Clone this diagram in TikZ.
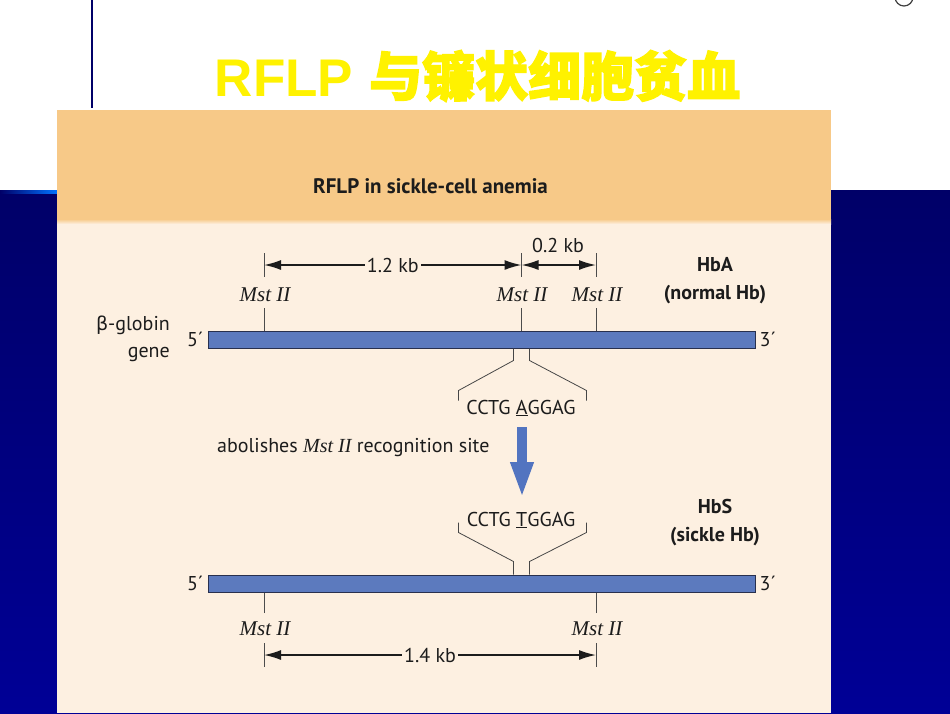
\documentclass[tikz,border=0pt]{standalone}
\usepackage{fontspec}
\setsansfont{PT Sans}
\newfontfamily\titlefont{Liberation Sans}
\newfontfamily\cjkfont[FakeBold=2.5]{Noto Sans CJK SC}
\newfontfamily\grkfont{DejaVu Sans}
\newfontfamily\sitefont{Liberation Serif}
\usepackage{xcolor}
\usetikzlibrary{positioning,arrows.meta}
\definecolor{slideblue}{RGB}{0,0,104}
\definecolor{slideblueb}{RGB}{0,0,150}
\definecolor{bandorange}{RGB}{247,201,136}
\definecolor{panelcream}{RGB}{253,240,225}
\definecolor{genefill}{RGB}{92,122,190}
\definecolor{geneedge}{RGB}{40,48,78}
\definecolor{arrowblue}{RGB}{82,116,192}
\definecolor{textdark}{RGB}{28,28,28}

\begin{document}
\begin{tikzpicture}[x=1pt, y=-1pt,
  genebar/.style={draw=geneedge, line width=1pt, fill=genefill, minimum width=547pt, minimum height=17pt, inner sep=0pt},
  lbl/.style={font=\sffamily\fontsize{20}{24}\selectfont, text=textdark, inner sep=1pt},
  site/.style={font=\sitefont\itshape\fontsize{21}{24}\selectfont, text=textdark, inner sep=1pt},
  hb/.style={font=\sffamily\bfseries\fontsize{20}{28}\selectfont, text=textdark, align=center},
  kb/.style={lbl, fill=panelcream, inner sep=2pt},
  tick/.style={draw=gray!60!black, line width=0.7pt},
  brace/.style={draw=gray!55!black, line width=0.8pt},
  dim/.style={{Latex[length=17pt,width=10pt]}-{Latex[length=17pt,width=10pt]}, line width=1.6pt, textdark},
  bigarrow/.style={-{Triangle[length=36pt,width=21pt]}, line width=10pt, arrowblue}
]
\useasboundingbox (0,0) rectangle (950,713);
\fill[white] (0,0) rectangle (950,713);
\shade[top color=slideblue, bottom color=slideblueb] (0,190) rectangle (950,713);
\shade[left color=slideblue, right color=blue!55!cyan] (0,190) rectangle (57,193);
\draw[slideblue, line width=1.5pt] (92,0) -- (92,108);
\draw[gray!50!black, line width=1.2pt] (904,-3) circle (9);
\node[anchor=base, text=yellow, inner sep=0pt] (title) at (477.5,96)
  {\fontsize{53}{60}\selectfont{\titlefont\bfseries RFLP} {\cjkfont\bfseries 与镰状细胞贫血}};

\fill[panelcream] (57,110) rectangle (831,713);
\fill[bandorange] (57,110) rectangle (831,219);
\shade[top color=bandorange, bottom color=panelcream] (57,219) rectangle (831,224);
\node[lbl, font=\sffamily\bfseries\fontsize{21}{24}\selectfont] (head) at (430.5,186) {RFLP in sickle-cell anemia};

\node[genebar] (hba) at (481.5,339.5) {};
\node[genebar] (hbs) at (481.5,583.5) {};
\node[lbl, left=3pt of hba] (p5a) {5´};
\node[lbl, right=3pt of hba] (p3a) {3´};
\node[lbl, left=3pt of hbs] (p5b) {5´};
\node[lbl, right=3pt of hbs] (p3b) {3´};
\node[lbl, align=right, anchor=east, font=\sffamily\fontsize{20}{27}\selectfont] (gene) at (171,338.5) {{\grkfont\fontsize{19}{27}\selectfont β}-globin\\gene};
\node[hb] (hbaname) at (715,281) {HbA\\(normal Hb)};
\node[hb] (hbsname) at (715,522.5) {HbS\\(sickle Hb)};

\coordinate (s1) at (264,308);
\coordinate (s2) at (521.5,308);
\coordinate (s3) at (596,308);
\coordinate (s4) at (264,613);
\coordinate (s5) at (596,613);
\draw[tick] (s1) -- (s1 |- hba.north);
\draw[tick] (s2) -- (s2 |- hba.north);
\draw[tick] (s3) -- (s3 |- hba.north);
\draw[tick] (s4) -- (s4 |- hbs.south);
\draw[tick] (s5) -- (s5 |- hbs.south);
\node[site] (m1) at (265,295) {Mst II};
\node[site] (m2) at (522,295) {Mst II};
\node[site] (m3) at (597,295) {Mst II};
\node[site] (m4) at (265,629) {Mst II};
\node[site] (m5) at (597,629) {Mst II};

\coordinate (d1) at (264,265);
\coordinate (d2) at (521.5,265);
\coordinate (d3) at (596,265);
\coordinate (d4) at (264,655);
\coordinate (d5) at (596,655);
\foreach \d in {d1,d2,d3,d4,d5}
  \draw[tick] ([yshift=12pt]\d) -- ([yshift=-12pt]\d);
\draw[dim] (d1) -- (d2) node[kb, midway] {1.2 kb};
\draw[dim] (d2) -- (d3);
\node[lbl] (kb02) at (558,245) {0.2 kb};
\draw[dim] (d4) -- (d5) node[kb, midway] {1.4 kb};

\coordinate (mutA) at (hba.south -| s2);
\coordinate (mutB) at (hbs.north -| s2);
\draw[brace] ([xshift=-8pt]mutA) -- ++(0,12) -- ++(-55,30) -- ++(0,10);
\draw[brace] ([xshift=8pt]mutA) -- ++(0,12) -- ++(57,30) -- ++(0,10);
\draw[brace] ([xshift=-8pt]mutB) -- ++(0,-13) -- ++(-55,-29) -- ++(0,-10);
\draw[brace] ([xshift=8pt]mutB) -- ++(0,-13) -- ++(57,-29) -- ++(0,-10);
\node[lbl] (seqA) at (521,408) {CCTG \underline{A}GGAG};
\node[lbl] (seqB) at (521,520) {CCTG \underline{T}GGAG};
\draw[bigarrow] (522,427) -- (522,498);
\node[lbl, anchor=west] (note) at (216,448) {abolishes {\sitefont\itshape Mst II} recognition site};
\end{tikzpicture}
\end{document}
